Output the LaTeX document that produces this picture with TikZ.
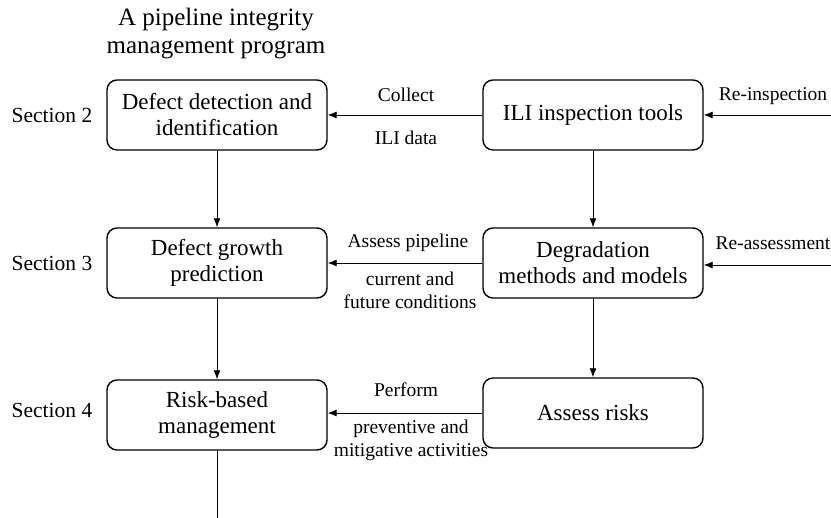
\documentclass[tikz,border=0pt]{standalone}
\usepackage{fontspec}
\setmainfont{Liberation Serif}
\usetikzlibrary{arrows.meta}
\begin{document}
\begin{tikzpicture}[x=1pt,y=-1pt,
  box/.style={draw,line width=1.4pt,rounded corners=10pt,minimum width=220pt,minimum height=70pt,align=center,font=\fontsize{23}{26}\selectfont,inner sep=0pt},
  lbl/.style={align=center,font=\fontsize{19.5}{23}\selectfont,inner sep=0pt},
  sec/.style={font=\fontsize{21.5}{25}\selectfont,inner sep=0pt},
  conn/.style={line width=0.9pt,-{Latex[length=9pt,width=7pt]}},
  plain/.style={line width=0.9pt}]
\useasboundingbox (0,0) rectangle (831,518);
\node[align=center,font=\fontsize{25}{28}\selectfont,inner sep=0pt] (title) at (216,34) {A pipeline integrity\\management program};
\node[box] (ddi) at (217,115) {Defect detection and\\identification};
\node[box] (ili) at (593,115) {ILI inspection tools};
\node[box] (dgp) at (217,263) {Defect growth\\prediction};
\node[box] (dmm) at (593,263) {Degradation\\methods and models};
\node[box] (rbm) at (217,415) {Risk-based\\management};
\node[box] (ar) at (593,413) {Assess risks};
\node[sec] (s2) at (52,115) {Section 2};
\node[sec] (s3) at (52,263) {Section 3};
\node[sec] (s4) at (52,410) {Section 4};
\coordinate (rin) at (831,115);
\coordinate (ras) at (831,265);
\coordinate (bot) at (217,518);
\draw[conn] (ili) -- (ddi);
\draw[conn] (rin) -- (ili);
\draw[conn] (dmm.west) -- (dgp.east |- dmm.west);
\draw[conn] (ras) -- (dmm.east |- ras);
\draw[conn] (ar.west) -- (rbm.east |- ar.west);
\draw[conn] (ddi) -- (dgp);
\draw[conn] (dgp) -- (rbm);
\draw[conn] (ili) -- (dmm);
\draw[conn] (dmm) -- (ar);
\draw[plain] (rbm) -- (bot);
\node[lbl] (l1) at (406,95) {Collect};
\node[lbl] (l2) at (406,138) {ILI data};
\node[lbl] (l3) at (773,96) {Re-inspection};
\node[lbl] (l4) at (408,243) {Assess pipeline};
\node[lbl] (l5) at (410,290) {current and\\future conditions};
\node[lbl] (l6) at (773,243) {Re-assessment};
\node[lbl] (l7) at (406,390) {Perform};
\node[lbl] (l8) at (411,440) {preventive and\\mitigative activities};
\end{tikzpicture}
\end{document}
